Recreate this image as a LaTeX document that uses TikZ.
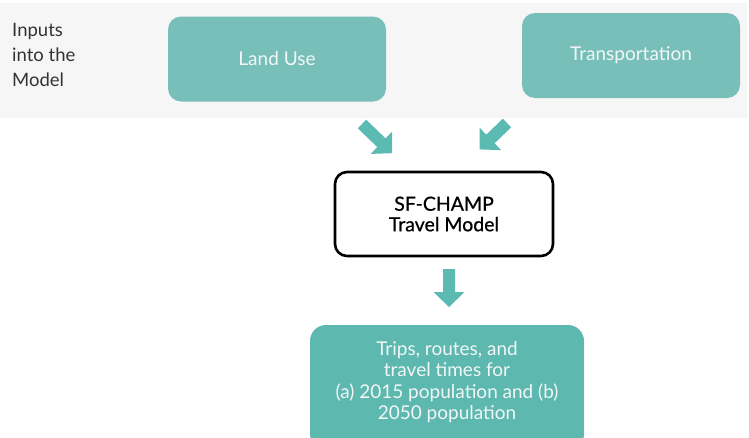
\documentclass[tikz,border=0pt]{standalone}
\usepackage{fontspec}
\setmainfont{Lato}
\newfontface\medf{Lato}[FakeBold=0.7]
\definecolor{band}{HTML}{F6F6F6}
\definecolor{topbox}{HTML}{79BFB9}
\definecolor{botbox}{HTML}{5DB8B0}
\definecolor{arrowc}{HTML}{5BBAB2}
\definecolor{boxtext}{HTML}{F2F7F6}
\definecolor{labtext}{HTML}{333333}
\newcommand\blockarrow[5]{% x, y, angle, length, name
  \begin{scope}[shift={(#1pt,#2pt)}, rotate=#3]
    \fill[arrowc] (0pt,-6pt) -- ({#4pt-15pt},-6pt) -- ({#4pt-15pt},-15.5pt) -- (#4pt,0pt)
      -- ({#4pt-15pt},15.5pt) -- ({#4pt-15pt},6pt) -- (0pt,6pt) -- cycle;
    \coordinate (#5) at (0,0);
  \end{scope}}
\begin{document}
\begin{tikzpicture}[x=1pt,y=1pt,
  inbox/.style={rounded corners=13pt, fill=topbox, text=boxtext, minimum width=218pt, minimum height=85pt, font=\fontsize{19}{22}\selectfont, inner sep=0pt},
  modelbox/.style={rounded corners=12pt, draw=black, line width=2.6pt, fill=white, minimum width=218pt, minimum height=84pt, font=\fontsize{19.5}{20.5}\medf, align=center, inner sep=0pt},
  outbox/.style={rounded corners=16pt, fill=botbox, text=boxtext, font=\fontsize{19}{21.5}\selectfont, align=center, inner sep=0pt}]
\useasboundingbox (0,0) rectangle (749,-437);
\fill[band] (0,-3) rectangle (747,-118);
\node[anchor=west, align=left, text=labtext, font=\fontsize{18.5}{25}\selectfont, inner sep=0pt] (lab) at (12,-55) {Inputs\\into the\\Model};
\node[inbox] (land) at (277,-59) {Land Use};
\node[inbox] (trans) at (631,-55.5) {Transportation};
\node[modelbox] (model) at (444,-214) {SF-CHAMP\\Travel Model};
\fill[botbox, rounded corners=16pt] (310,-450) rectangle (584,-325);
\node[outbox] (out) at (447,-382) {Trips, routes, and\\travel times for\\(a) 2015 population and (b)\\2050 population};
\blockarrow{362}{-124}{-44}{42}{a1}
\blockarrow{507}{-123}{224}{38}{a2}
\blockarrow{449}{-269}{-90}{38}{a3}
\end{tikzpicture}
\end{document}
